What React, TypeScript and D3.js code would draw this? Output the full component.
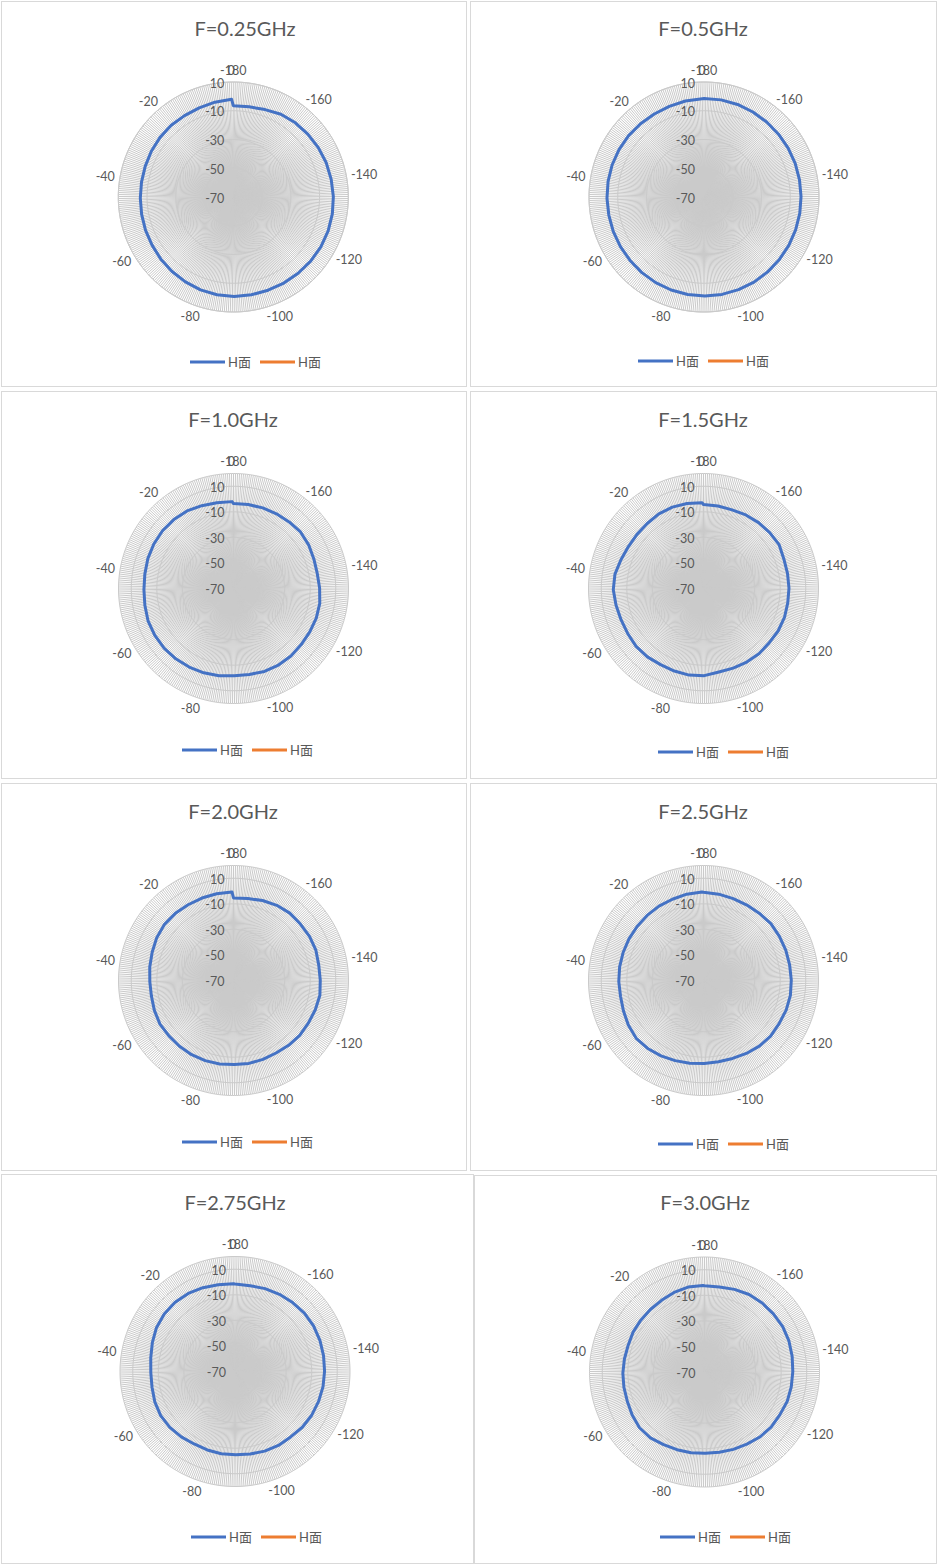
import * as d3 from "d3";

// 361 categories, -180 .. 0 in steps of 0.5 (one spoke each)
const CATEGORIES = d3.range(-180, 0.5, 0.5);
const CAT_LABELS = [-180, -160, -140, -120, -100, -80, -60, -40, -20, 0];
const READ_AT = d3.range(-180, 5, 5);
const RING_VALUES = [-50, -30, -10, 10];
const VALUE_LABELS = [10, -10, -30, -50, -70];
const AXIS_MIN = -70;
const SERIES_NAMES = ["H面", "H面"];

const TITLES = [
  "F=0.25GHz",
  "F=0.5GHz",
  "F=1.0GHz",
  "F=1.5GHz",
  "F=2.0GHz",
  "F=2.5GHz",
  "F=2.75GHz",
  "F=3.0GHz",
];
const AXIS_MAX = [10, 10, 20, 20, 20, 20, 20, 20];

const F025 = [-6.5, -6.3, -5.3, -3.6, -2.7, -2.2, -1.6, -1.1, -0.8, -0.4, -0.1, 0.1, 0.1, -0.1, -0.4, -0.6, -0.8, -0.8, -0.8, -1.1, -1.5, -2.2, -2.9, -3.6, -4.3, -4.7, -5.1, -5.3, -5.3, -5.1, -4.7, -4.3, -4.0, -4.0, -3.6, -2.8, -2.0];
const F05 = [-1.5, -1.4, -1.5, -1.8, -2.0, -2.2, -2.3, -2.4, -2.5, -2.5, -2.4, -2.3, -2.1, -1.9, -1.6, -1.3, -1.2, -1.1, -1.1, -1.2, -1.4, -1.6, -1.9, -2.2, -2.4, -2.5, -2.6, -2.5, -2.4, -2.3, -2.3, -2.4, -2.6, -2.7, -2.5, -2.0, -1.6];
const F10 = [-3.5, -3.3, -2.9, -2.6, -2.1, -1.4, -2.0, -3.0, -3.4, -2.6, -1.5, -1.2, -1.3, -1.2, -0.6, -0.5, -0.7, -1.6, -1.8, -0.8, 0.0, 0.6, 1.2, 1.6, 1.7, 1.5, 0.6, 0.1, 0.3, 1.0, 1.4, 1.6, 1.3, 0.8, -0.6, -1.6, -2.0];
const F15 = [-4.3, -4.4, -4.5, -3.6, -2.8, -2.2, -1.6, -3.0, -3.2, -3.1, -3.1, -2.7, -2.8, -3.3, -3.0, -3.2, -3.5, -3.6, -1.8, -1.3, -1.5, -1.6, -0.8, -0.5, -1.0, -1.0, -0.3, 0.6, 0.2, -1.6, -2.7, -2.9, -2.7, -2.0, -1.8, -2.2, -2.8];
const F20 = [-5.4, -4.9, -3.4, -2.1, -1.3, -1.5, -1.2, -1.3, -2.2, -2.1, -1.4, -2.0, -2.6, -2.7, -3.4, -4.2, -4.1, -4.0, -4.2, -3.8, -3.5, -3.3, -3.4, -3.4, -3.1, -3.8, -4.6, -4.5, -3.6, -2.6, -1.2, -0.4, -0.5, -0.9, -0.9, -0.8, -0.7];
const F25 = [-1.0, -1.4, -1.8, -1.9, -1.6, -1.0, -1.3, -1.4, -1.5, -1.3, -1.0, -1.3, -1.9, -1.8, -2.6, -3.8, -4.9, -5.4, -5.0, -4.3, -3.5, -2.3, -1.2, -0.6, -1.6, -3.0, -3.9, -3.7, -3.5, -3.4, -3.2, -3.0, -2.6, -2.2, -1.9, -1.2, -0.8];
const F275 = [-1.5, -1.8, -1.0, -0.3, 0.3, 1.0, 1.1, 0.8, 0.4, 0.1, -0.1, -0.5, -0.9, -1.6, -2.8, -2.9, -3.5, -4.3, -4.9, -4.7, -4.9, -4.9, -3.8, -2.8, -2.4, -2.9, -3.9, -4.1, -3.2, -1.5, 0.4, 1.4, 1.6, 1.2, 0.2, -0.9, -1.3];
const F30 = [-2.5, -2.5, -1.2, 0.0, 0.4, 0.5, 0.8, 0.4, -0.3, -0.9, -1.1, -1.3, -2.2, -2.3, -3.2, -4.5, -5.4, -6.1, -6.4, -6.0, -5.5, -4.8, -3.3, -3.0, -4.2, -5.4, -5.8, -6.1, -6.5, -6.7, -6.0, -5.7, -5.3, -4.6, -3.3, -2.3, -2.3];
const SERIES = [F025, F05, F10, F15, F20, F25, F275, F30];

// panel frames and positions of each chart inside the page
const LAYOUT = [
  { box: [1, 1, 466, 386], cx: 233.3, cy: 197, tx: 245, ty: 28, lx: 190, ly: 362 },
  { box: [470, 1, 936, 386], cx: 704, cy: 197, tx: 703, ty: 28, lx: 638, ly: 361 },
  { box: [1, 391, 466, 778], cx: 233.5, cy: 588.5, tx: 233, ty: 419, lx: 182, ly: 750 },
  { box: [470, 391, 936, 778], cx: 703.5, cy: 588.5, tx: 703, ty: 419, lx: 658, ly: 752 },
  { box: [1, 783, 466, 1170], cx: 233.5, cy: 980.5, tx: 233, ty: 811, lx: 182, ly: 1142 },
  { box: [470, 783, 936, 1170], cx: 703.5, cy: 980.5, tx: 703, ty: 811, lx: 658, ly: 1144 },
  { box: [1, 1174, 473, 1563], cx: 235, cy: 1371.5, tx: 235, ty: 1202, lx: 191, ly: 1537 },
  { box: [474, 1175, 936, 1563], cx: 704.5, cy: 1372, tx: 705, ty: 1202, lx: 660, ly: 1537 },
];

const R = 115;
const FONT = "Lato, 'Noto Sans CJK SC', sans-serif";
const TEXT = "#595959";
const GRID = "#D9D9D9";
const SPOKE = "#CACACA";
const COLORS = ["#4472C4", "#ED7D31"];

interface PanelProps {
  title: string;
  values: number[];
  max: number;
  lay: (typeof LAYOUT)[number];
}

function RadarPanel({ title, values, max, lay }: PanelProps) {
  const angle = d3.scaleLinear().domain([-180, 0.5]).range([0, 2 * Math.PI]);
  const radius = d3.scaleLinear().domain([AXIS_MIN, max]).range([0, R]);

  const ring = (v: number) =>
    d3
      .lineRadial<number>()
      .angle((c) => angle(c))
      .radius(() => radius(v))
      .curve(d3.curveLinearClosed)(CATEGORIES) || undefined;

  const spokes = CATEGORIES.map((c) => {
    const a = angle(c);
    return `M0,0L${(R * Math.sin(a)).toFixed(2)},${(-R * Math.cos(a)).toFixed(2)}`;
  }).join("");

  const curve = d3
    .lineRadial<number>()
    .angle((_, i) => angle(READ_AT[i]))
    .radius((d) => radius(d))
    .curve(d3.curveLinearClosed);

  const [x0, y0, x1, y1] = lay.box;
  const fs = 12.5;

  return (
    <g>
      <rect
        x={x0 + 0.5}
        y={y0 + 0.5}
        width={x1 - x0}
        height={y1 - y0}
        fill="#fff"
        stroke={GRID}
        strokeWidth={1}
      />
      <text
        x={lay.tx}
        y={lay.ty}
        textAnchor="middle"
        dominantBaseline="central"
        fontSize={20}
        fill={TEXT}
      >
        {title}
      </text>
      <g transform={`translate(${lay.cx},${lay.cy})`}>
        <path d={spokes} stroke={SPOKE} strokeWidth={1} fill="none" />
        {[...RING_VALUES, max].map((v) => (
          <path key={v} d={ring(v)} stroke={SPOKE} strokeWidth={1} fill="none" />
        ))}
        <path
          d={curve(values) || undefined}
          fill="none"
          stroke={COLORS[0]}
          strokeWidth={3}
          strokeLinejoin="round"
        />
        {VALUE_LABELS.map((v) => (
          <text
            key={v}
            x={-9}
            y={-radius(v) + 1}
            textAnchor="end"
            dominantBaseline="central"
            fontSize={fs}
            fill={TEXT}
          >
            {v}
          </text>
        ))}
        {CAT_LABELS.map((c) => {
          const a = angle(c);
          const label = String(c);
          const w = label.length * fs * 0.52;
          const px = (R + 5) * Math.sin(a);
          const py = -(R + 5) * Math.cos(a);
          return (
            <text
              key={c}
              x={px + (w / 2) * Math.sin(a)}
              y={py - 7 * Math.cos(a)}
              textAnchor="middle"
              dominantBaseline="central"
              fontSize={fs}
              fill={TEXT}
            >
              {label}
            </text>
          );
        })}
      </g>
      <g transform={`translate(${lay.lx},${lay.ly})`}>
        {SERIES_NAMES.map((name, i) => (
          <g key={i} transform={`translate(${i * 70},0)`}>
            <line x1={0} x2={35} y1={0} y2={0} stroke={COLORS[i]} strokeWidth={3} />
            <text x={38} y={0} dominantBaseline="central" fontSize={13} fill={TEXT}>
              {name}
            </text>
          </g>
        ))}
      </g>
    </g>
  );
}

export default function App() {
  return (
    <svg
      width={937}
      height={1564}
      style={{ position: "absolute", left: 0, top: 0, display: "block", background: "#fff" }}
      fontFamily={FONT}
    >
      {TITLES.map((t, i) => (
        <RadarPanel key={t} title={t} values={SERIES[i]} max={AXIS_MAX[i]} lay={LAYOUT[i]} />
      ))}
    </svg>
  );
}
